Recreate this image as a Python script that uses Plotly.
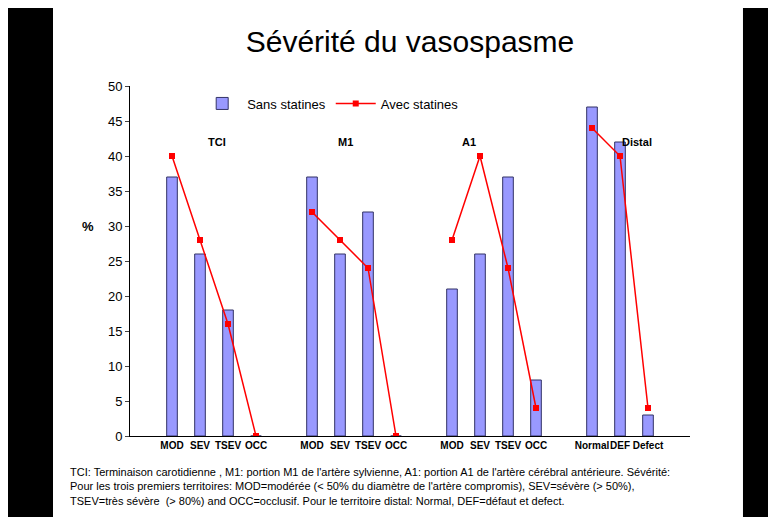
import plotly.graph_objects as go

# category slots (gap between territories)
slots = [0, 1, 2, 3, 5, 6, 7, 8, 10, 11, 12, 13, 15, 16, 17]
labels = ["MOD", "SEV", "TSEV", "OCC", "MOD", "SEV", "TSEV", "OCC",
          "MOD", "SEV", "TSEV", "OCC", "Normal", "DEF", "Defect"]
sans = [37, 26, 18, 0, 37, 26, 32, 0, 21, 26, 37, 8, 47, 42, 3]
avec = [40, 28, 16, 0, 32, 28, 24, 0, 28, 40, 24, 4, 44, 40, 4]
groups = [(0, 4), (4, 8), (8, 12), (12, 15)]
group_names = ["TCI", "M1", "A1", "Distal"]
group_pos = [1.6, 6.2, 10.6, 16.6]

fig = go.Figure()
fig.add_trace(go.Bar(x=slots, y=sans, width=0.38, name="Sans statines",
                     marker=dict(color="#9999ff", line=dict(color="#333366", width=1))))
for i, (a, b) in enumerate(groups):
    fig.add_trace(go.Scatter(x=slots[a:b], y=avec[a:b], mode="lines+markers",
                             name="Avec statines", showlegend=(i == 0),
                             line=dict(color="#ff0000", width=1.5),
                             marker=dict(symbol="square", size=6, color="#ff0000")))

for name, pos in zip(group_names, group_pos):
    fig.add_annotation(x=pos, y=42, text="<b>%s</b>" % name, showarrow=False,
                       font=dict(size=11, color="black"))

fig.add_annotation(xref="paper", yref="paper", x=-0.09, y=0.6, text="<b>%</b>",
                   showarrow=False, font=dict(size=13))
fig.add_annotation(xref="paper", yref="paper", x=-0.11, y=-0.08, xanchor="left", yanchor="top",
                   align="left", showarrow=False, font=dict(size=11, color="black"),
                   text="TCI: Terminaison carotidienne , M1: portion M1 de l'artère sylvienne, A1: portion A1 de l'artère cérébral antérieure. Sévérité:<br>"
                        "Pour les trois premiers territoires: MOD=modérée (< 50% du diamètre de l'artère compromis), SEV=sévère (> 50%),<br>"
                        "TSEV=très sévère  (> 80%) and OCC=occlusif. Pour le territoire distal: Normal, DEF=défaut et defect.")

# black slide borders
for x0, x1 in [(-0.25, -0.1375), (1.0946, 1.25)]:
    fig.add_shape(type="rect", xref="paper", yref="paper", x0=x0, x1=x1, y0=-0.3, y1=1.3,
                  fillcolor="black", line=dict(width=0), layer="above")

fig.update_layout(
    width=776, height=517, plot_bgcolor="white", paper_bgcolor="white",
    margin=dict(l=122, r=94, t=78, b=89, autoexpand=False),
    font=dict(family="Liberation Sans, Arial", color="black"),
    title=dict(text="Sévérité du vasospasme", x=0.5, xref="paper", y=0.955,
               font=dict(size=30, color="black")),
    legend=dict(orientation="h", x=0.12, y=0.95, xanchor="left", yanchor="middle",
                font=dict(size=13), bgcolor="rgba(0,0,0,0)", itemwidth=40),
    xaxis=dict(range=[-1.5, 18.5], tickvals=slots, ticktext=["<b>%s</b>" % l for l in labels],
               tickfont=dict(size=10), tickangle=0, automargin=False, showline=True,
               linecolor="black", showgrid=False, ticks="", zeroline=False),
    yaxis=dict(range=[0, 50], dtick=5, tickfont=dict(size=13), showline=True, automargin=False,
               linecolor="black", ticks="outside", ticklen=4, showgrid=False, zeroline=False),
)
fig.write_html("out.html")
